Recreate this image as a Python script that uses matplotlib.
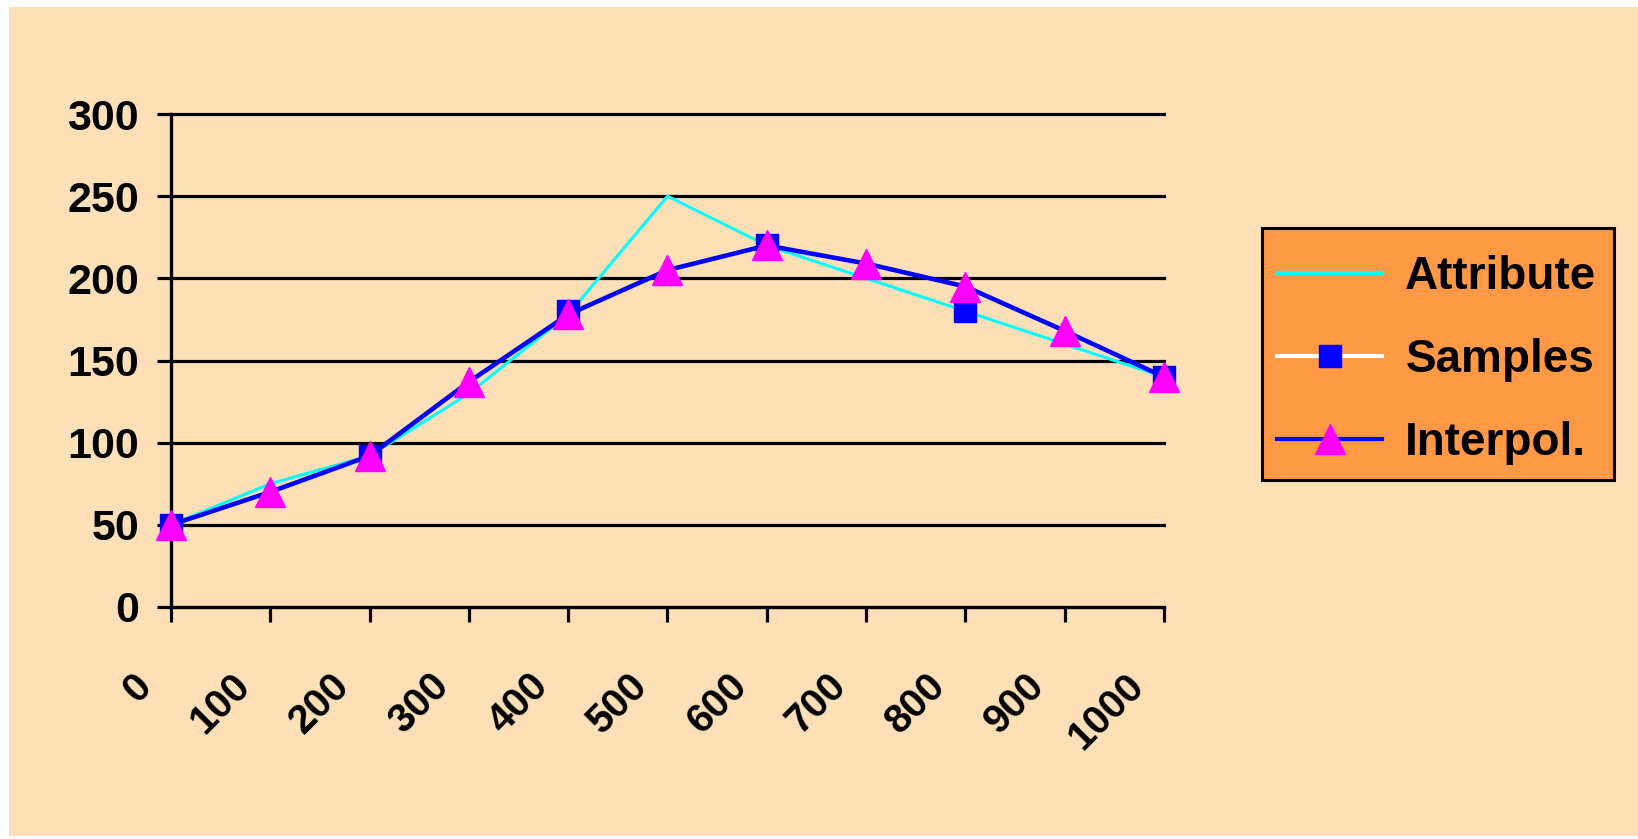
import matplotlib
matplotlib.use("Agg")
import matplotlib.pyplot as plt
from matplotlib.lines import Line2D
from matplotlib.patches import Rectangle
from matplotlib.transforms import ScaledTranslation

# Data
x_positions = [0, 100, 200, 300, 400, 500, 600, 700, 800, 900, 1000]
attribute = [50, 75, 92, 130, 178, 250, 220, 200, 180, 160, 140]
sample_x = [0, 200, 400, 600, 800, 1000]
samples = [50, 92, 180, 220, 180, 140]
interpol = [50, 70, 92, 137, 178, 205, 220, 209, 195, 168, 140]
y_ticks = [0, 50, 100, 150, 200, 250, 300]
x_tick_labels = [str(v) for v in x_positions]
legend_labels = ["Attribute", "Samples", "Interpol."]

BG = "#FDDFB8"
LEGEND_BG = "#FF9945"
FONT = "Liberation Sans"
W, H = 1638, 839
DPI = 100

fig = plt.figure(figsize=(W / DPI, H / DPI), dpi=DPI, facecolor="white")
# peach panel behind everything
fig.patches.append(Rectangle((9 / W, 3 / H), 1 - 9 / W, 1 - 10 / H,
                             transform=fig.transFigure, facecolor=BG,
                             edgecolor="none", zorder=-10))

ax = fig.add_axes([171 / W, 232 / H, (1164 - 171) / W, (725 - 232) / H])
ax.patch.set_alpha(0)

ax.set_xlim(0, 1000)
ax.set_ylim(0, 300)

for s in ["top", "right"]:
    ax.spines[s].set_visible(False)
ax.spines["left"].set_linewidth(2.4)
ax.spines["bottom"].set_linewidth(2.3)

ax.set_yticks(y_ticks)
ax.yaxis.grid(True, color="black", linewidth=2.3)
for gl in ax.get_ygridlines():
    gl.set_clip_on(False)
ax.set_axisbelow(True)
ax.tick_params(axis="y", direction="out", length=10, width=2.3, pad=13,
               labelsize=31)
ax.set_xticks(x_positions)
ax.set_xticklabels(x_tick_labels)
ax.tick_params(axis="x", direction="out", length=10.5, width=2.3, pad=42,
               labelsize=29)
for lbl in ax.get_yticklabels():
    lbl.set_fontfamily(FONT)
    lbl.set_fontweight("bold")
shift = ScaledTranslation(-26 / DPI, 0, fig.dpi_scale_trans)
for lbl in ax.get_xticklabels():
    lbl.set_fontfamily(FONT)
    lbl.set_fontweight("bold")
    lbl.set_rotation(45)
    lbl.set_rotation_mode("anchor")
    lbl.set_ha("right")
    lbl.set_va("center")
    lbl.set_transform(lbl.get_transform() + shift)

ax.plot(x_positions, attribute, color="#00FFFF", linewidth=2.2, zorder=3,
        clip_on=False)
ax.plot(sample_x, samples, linestyle="none", marker="s", markersize=16,
        markerfacecolor="#0000FF", markeredgecolor="#0000FF", zorder=4,
        clip_on=False)
ax.plot(x_positions, interpol, color="#0000FF", linewidth=3.3, marker="^",
        markersize=21, markerfacecolor="#FF00FF", markeredgecolor="#FF00FF",
        zorder=5, clip_on=False)

# legend box
fig.patches.append(Rectangle((1262 / W, 1 - 480 / H), (1614 - 1262) / W,
                             (480 - 228) / H, transform=fig.transFigure,
                             facecolor=LEGEND_BG, edgecolor="black",
                             linewidth=2.2, zorder=1))
handles = [
    Line2D([], [], color="#00FFFF", linewidth=3),
    Line2D([], [], color="white", linewidth=3, marker="s", markersize=16,
           markerfacecolor="#0000FF", markeredgecolor="#0000FF"),
    Line2D([], [], color="#0000FF", linewidth=3, marker="^", markersize=21,
           markerfacecolor="#FF00FF", markeredgecolor="#FF00FF"),
]
leg = fig.legend(handles, legend_labels, loc="upper left",
                 bbox_to_anchor=(1277 / W, 1 - 255 / H),
                 prop={"family": FONT, "weight": "bold", "size": 33},
                 frameon=False, handlelength=2.3, handletextpad=0.5,
                 labelspacing=0.85, borderpad=0, borderaxespad=0)
leg.set_zorder(5)

fig.savefig("out.png", dpi=DPI, facecolor="white")
